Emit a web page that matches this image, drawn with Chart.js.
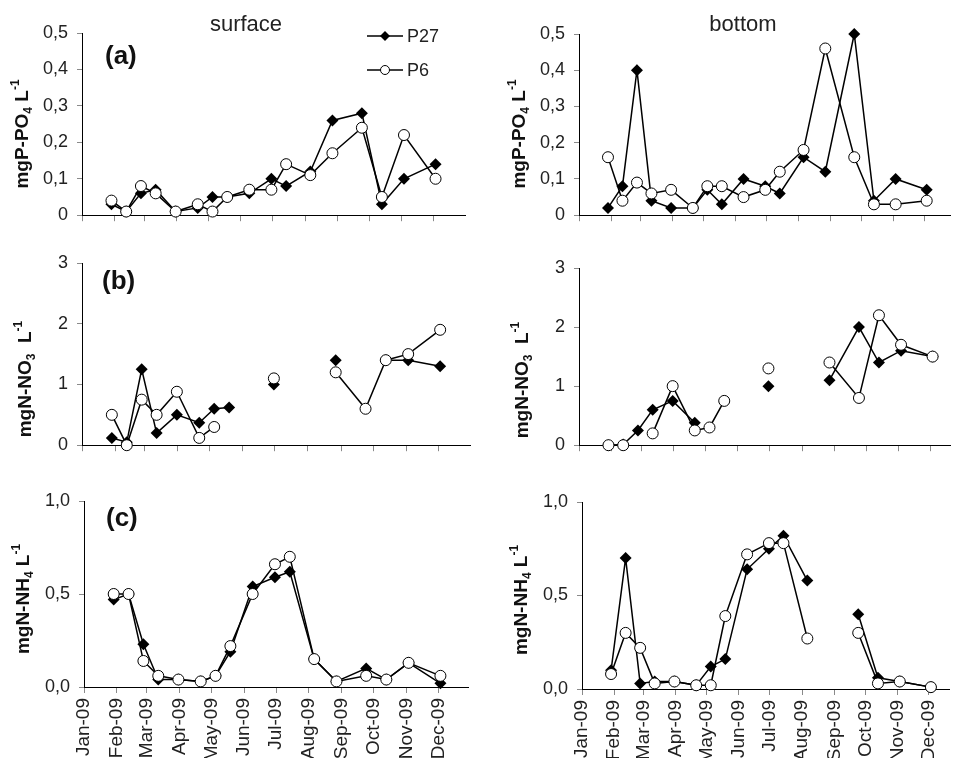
<!DOCTYPE html>
<html>
<head>
<meta charset="utf-8">
<script src="https://cdn.jsdelivr.net/npm/chart.js@4.4.1/dist/chart.umd.min.js"></script>
<style>
  html, body { margin: 0; padding: 0; background: #fff; overflow: hidden; }
  #page { position: relative; width: 957px; height: 758px; }
  canvas { position: absolute; }
</style>
</head>
<body>
<div id="page">
  <canvas id="surfPO4" width="478" height="235" style="left:0px;top:0px"></canvas>
  <canvas id="botPO4" width="477" height="235" style="left:480px;top:0px"></canvas>
  <canvas id="surfNO3" width="478" height="230" style="left:0px;top:235px"></canvas>
  <canvas id="botNO3" width="477" height="230" style="left:480px;top:235px"></canvas>
  <canvas id="surfNH4" width="478" height="293" style="left:0px;top:465px"></canvas>
  <canvas id="botNH4" width="477" height="293" style="left:480px;top:465px"></canvas>
</div>
<script>
// sampling days, counted from 1 Jan 2009 (= 0)
const sampleDays = [28, 42, 56, 70, 89, 110, 124, 138, 159, 180, 194, 217, 238, 266, 285, 306, 336];
const monthDays = [0, 31, 59, 90, 120, 151, 181, 212, 243, 273, 304, 334];
const monthLabels = ['Jan-09', 'Feb-09', 'Mar-09', 'Apr-09', 'May-09', 'Jun-09',
                     'Jul-09', 'Aug-09', 'Sep-09', 'Oct-09', 'Nov-09', 'Dec-09'];
const seriesNames = ['P27', 'P6'];

// PO4 (mg P / L)
const surfPO4_P27 = [0.03, 0.01, 0.06, 0.07, 0.01, 0.02, 0.05, 0.05, 0.06, 0.10, 0.08, 0.12, 0.26, 0.28, 0.03, 0.10, 0.14];
const surfPO4_P6  = [0.04, 0.01, 0.08, 0.06, 0.01, 0.03, 0.01, 0.05, 0.07, 0.07, 0.14, 0.11, 0.17, 0.24, 0.05, 0.22, 0.10];
const botPO4_P27  = [0.02, 0.08, 0.40, 0.04, 0.02, 0.02, 0.07, 0.03, 0.10, 0.08, 0.06, 0.16, 0.12, 0.50, 0.04, 0.10, 0.07];
const botPO4_P6   = [0.16, 0.04, 0.09, 0.06, 0.07, 0.02, 0.08, 0.08, 0.05, 0.07, 0.12, 0.18, 0.46, 0.16, 0.03, 0.03, 0.04];

// NO3 (mg N / L)
const surfNO3_P27 = [0.12, 0.05, 1.25, 0.20, 0.50, 0.37, 0.60, 0.62, null, 1.00, null, null, 1.40, null, 1.40, 1.40, 1.30];
const surfNO3_P6  = [0.50, 0.00, 0.75, 0.50, 0.88, 0.12, 0.30, null, null, 1.10, null, null, 1.20, 0.60, 1.40, 1.50, 1.90];
const botNO3_P27  = [0.00, 0.01, 0.25, 0.60, 0.75, 0.38, null, null, null, 1.00, null, null, 1.10, 2.00, 1.40, 1.60, 1.50];
const botNO3_P6   = [0.00, 0.00, null, 0.20, 1.00, 0.25, 0.30, 0.75, null, 1.30, null, null, 1.40, 0.80, 2.20, 1.70, 1.50];

// NH4 (mg N / L)
const surfNH4_P27 = [0.47, 0.50, 0.23, 0.04, 0.04, 0.03, 0.06, 0.19, 0.54, 0.59, 0.62, 0.15, 0.03, 0.10, 0.04, 0.13, 0.02];
const surfNH4_P6  = [0.50, 0.50, 0.14, 0.06, 0.04, 0.03, 0.06, 0.22, 0.50, 0.66, 0.70, 0.15, 0.03, 0.06, 0.04, 0.13, 0.06];
const botNH4_P27  = [0.10, 0.70, 0.03, 0.04, 0.04, 0.02, 0.12, 0.16, 0.64, 0.75, 0.82, 0.58, null, 0.40, 0.06, 0.04, 0.01];
const botNH4_P6   = [0.08, 0.30, 0.22, 0.03, 0.04, 0.02, 0.02, 0.39, 0.72, 0.78, 0.78, 0.27, null, 0.30, 0.03, 0.04, 0.01];

const FONT = '"Liberation Sans", Arial, sans-serif';
const TEXT = '#222';
Chart.defaults.font.family = FONT;
Chart.defaults.color = TEXT;

function toPoints(vals) {
  return sampleDays.map((d, i) => ({ x: d, y: vals[i] }));
}

function drawDiamond(ctx, x, y, r) {
  ctx.beginPath();
  ctx.moveTo(x, y - r); ctx.lineTo(x + r, y); ctx.lineTo(x, y + r); ctx.lineTo(x - r, y);
  ctx.closePath();
  ctx.fillStyle = '#000';
  ctx.fill();
}
function drawCircle(ctx, x, y, r) {
  ctx.beginPath();
  ctx.arc(x, y, r, 0, Math.PI * 2);
  ctx.fillStyle = '#fff';
  ctx.fill();
  ctx.lineWidth = 1;
  ctx.strokeStyle = '#000';
  ctx.stroke();
}

// y title with subscript / superscript, rotated
function drawRichTitle(ctx, t) {
  const big = 'bold 19px ' + FONT, small = 'bold 12px ' + FONT;
  let total = 0;
  t.parts.forEach(p => { ctx.font = p[1] ? small : big; total += ctx.measureText(p[0]).width; });
  ctx.save();
  ctx.translate(t.x, t.y);
  ctx.rotate(-Math.PI / 2);
  ctx.textAlign = 'left';
  ctx.textBaseline = 'alphabetic';
  ctx.fillStyle = '#111';
  let cx = -total / 2;
  t.parts.forEach(p => {
    ctx.font = p[1] ? small : big;
    const dy = p[1] === 1 ? 4 : (p[1] === -1 ? -9 : 0);
    ctx.fillText(p[0], cx, dy);
    cx += ctx.measureText(p[0]).width;
  });
  ctx.restore();
}

const panelText = {
  id: 'panelText',
  afterDraw(chart, args, o) {
    const ctx = chart.ctx;
    ctx.save();
    ctx.translate(-o.ox, -o.oy);
    ctx.fillStyle = TEXT;
    ctx.textBaseline = 'alphabetic';
    if (o.title) {
      ctx.font = '22px ' + FONT;
      ctx.textAlign = 'center';
      ctx.fillText(o.title.text, o.title.x, o.title.y);
    }
    if (o.tag) {
      ctx.font = 'bold 26px ' + FONT;
      ctx.textAlign = 'left';
      ctx.fillStyle = '#111';
      ctx.fillText(o.tag.text, o.tag.x, o.tag.y);
    }
    if (o.yTitle) drawRichTitle(ctx, o.yTitle);
    if (o.legend) {
      const L = o.legend;
      seriesNames.forEach((name, i) => {
        const y = L.y + i * L.gap;
        ctx.beginPath();
        ctx.moveTo(L.x, y); ctx.lineTo(L.x + L.len, y);
        ctx.lineWidth = 1.5; ctx.strokeStyle = '#000'; ctx.stroke();
        const mx = L.x + L.len / 2;
        if (i === 0) drawDiamond(ctx, mx, y, 5); else drawCircle(ctx, mx, y, 4.5);
        ctx.fillStyle = TEXT;
        ctx.font = '18px ' + FONT;
        ctx.textAlign = 'left';
        ctx.textBaseline = 'middle';
        ctx.fillText(name, L.x + L.len + 4, y + 1);
      });
    }
    ctx.restore();
  }
};
Chart.register(panelText);

function makePanel(id, cfg) {
  const canvas = document.getElementById(id);
  const ox = parseFloat(canvas.style.left), oy = parseFloat(canvas.style.top);
  const W = canvas.width, H = canvas.height;
  new Chart(canvas, {
    type: 'line',
    data: {
      datasets: [
        { label: seriesNames[0], data: toPoints(cfg.p27), order: 1, clip: false,
          borderColor: '#000', borderWidth: 1.5, tension: 0,
          pointStyle: 'rectRot', pointRadius: 6, pointHoverRadius: 6,
          pointBackgroundColor: '#000', pointBorderColor: '#000', pointBorderWidth: 0 },
        { label: seriesNames[1], data: toPoints(cfg.p6), order: 0, clip: false,
          borderColor: '#000', borderWidth: 1.5, tension: 0,
          pointStyle: 'circle', pointRadius: 5.5, pointHoverRadius: 5.5,
          pointBackgroundColor: '#fff', pointBorderColor: '#000', pointBorderWidth: 1 }
      ]
    },
    options: {
      responsive: false, animation: false, devicePixelRatio: 1,
      events: [],
      layout: { padding: { top: cfg.top - oy, right: ox + W - cfg.right, left: 0, bottom: 0 } },
      plugins: {
        legend: { display: false },
        tooltip: { enabled: false },
        panelText: Object.assign({ ox: ox, oy: oy }, cfg.text)
      },
      scales: {
        x: {
          type: 'linear', min: 0, max: cfg.xMax,
          afterBuildTicks: s => { s.ticks = monthDays.map(v => ({ value: v })); },
          afterFit: s => { s.height = oy + H - cfg.bottom; },
          ticks: {
            display: cfg.xLabels, autoSkip: false, minRotation: 90, maxRotation: 90,
            padding: 5, color: TEXT, font: { size: 19 },
            callback: v => monthLabels[monthDays.indexOf(v)]
          },
          grid: { drawOnChartArea: false, drawTicks: true, tickLength: 6, color: '#8a8a8a' },
          border: { display: true, color: '#000', width: 1 }
        },
        y: {
          min: 0, max: cfg.yMax,
          afterFit: s => { s.width = cfg.left - ox; },
          ticks: { stepSize: cfg.yStep, padding: 9, color: TEXT, font: { size: 18 }, callback: cfg.yFmt },
          grid: { drawOnChartArea: false, drawTicks: true, tickLength: 5, color: '#8a8a8a' },
          border: { display: true, color: '#000', width: 1 }
        }
      }
    }
  });
}

const fmtPO4 = v => (v < 1e-9 ? '0' : v.toFixed(1).replace('.', ','));
const fmtNO3 = v => String(Math.round(v));
const fmtNH4 = v => v.toFixed(1).replace('.', ',');
const titlePO4 = [['mgP-PO', 0], ['4', 1], [' L', 0], ['-1', -1]];
const titleNO3 = [['mgN-NO', 0], ['3', 1], ['  L', 0], ['-1', -1]];
const titleNH4 = [['mgN-NH', 0], ['4', 1], [' L', 0], ['-1', -1]];

makePanel('surfPO4', {
  p27: surfPO4_P27, p6: surfPO4_P6, yMax: 0.5, yStep: 0.1, yFmt: fmtPO4,
  left: 82, right: 465, top: 33, bottom: 220, xMax: 364, xLabels: false,
  text: {
    title: { text: 'surface', x: 246, y: 31 },
    tag: { text: '(a)', x: 105, y: 64 },
    yTitle: { x: 28, y: 134, parts: titlePO4 },
    legend: { x: 367, y: 36, len: 36, gap: 34 }
  }
});
makePanel('botPO4', {
  p27: botPO4_P27, p6: botPO4_P6, yMax: 0.5, yStep: 0.1, yFmt: fmtPO4,
  left: 579, right: 957, top: 34, bottom: 221, xMax: 359, xLabels: false,
  text: {
    title: { text: 'bottom', x: 743, y: 31 },
    yTitle: { x: 525, y: 134, parts: titlePO4 }
  }
});
makePanel('surfNO3', {
  p27: surfNO3_P27, p6: surfNO3_P6, yMax: 3, yStep: 1, yFmt: fmtNO3,
  left: 82, right: 470, top: 263, bottom: 453, xMax: 364, xLabels: false,
  text: {
    tag: { text: '(b)', x: 102, y: 289 },
    yTitle: { x: 31, y: 379, parts: titleNO3 }
  }
});
makePanel('botNO3', {
  p27: botNO3_P27, p6: botNO3_P6, yMax: 3, yStep: 1, yFmt: fmtNO3,
  left: 579, right: 957, top: 268, bottom: 457, xMax: 353, xLabels: false,
  text: {
    yTitle: { x: 528, y: 380, parts: titleNO3 }
  }
});
makePanel('surfNH4', {
  p27: surfNH4_P27, p6: surfNH4_P6, yMax: 1.0, yStep: 0.5, yFmt: fmtNH4,
  left: 84, right: 468, top: 501, bottom: 687, xMax: 362, xLabels: true,
  text: {
    tag: { text: '(c)', x: 106, y: 526 },
    yTitle: { x: 29, y: 599, parts: titleNH4 }
  }
});
makePanel('botNH4', {
  p27: botNH4_P27, p6: botNH4_P6, yMax: 1.0, yStep: 0.5, yFmt: fmtNH4,
  left: 582, right: 957, top: 502, bottom: 689, xMax: 354, xLabels: true,
  text: {
    yTitle: { x: 527, y: 600, parts: titleNH4 }
  }
});
</script>
</body>
</html>
